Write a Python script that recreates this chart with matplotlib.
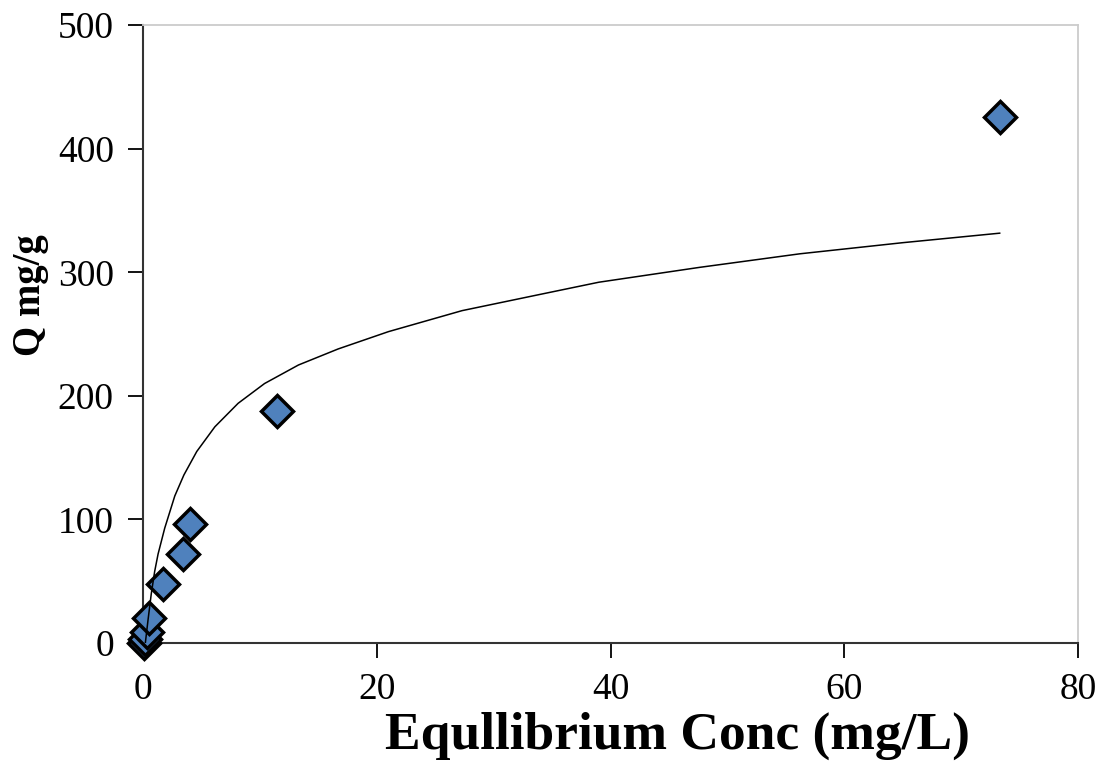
import numpy as np
import matplotlib
matplotlib.use("Agg")
import matplotlib.pyplot as plt

# measured data (equilibrium conc, uptake)
conc = [0.05, 0.15, 0.3, 0.5, 1.75, 3.4, 4.0, 11.5, 73.3]
uptake = [0, 3, 9, 20, 48, 72, 96, 188, 426]

# fitted isotherm line
fit_conc = [0.2, 0.43, 0.71, 1.0, 1.29, 1.86, 2.72, 3.5, 4.6, 6.15, 8.14,
            10.4, 13.3, 16.7, 21.0, 27.3, 33.9, 39.0, 47.6, 56.2, 65.0, 73.3]
fit_q = [0, 18.6, 40, 58, 72, 93, 119, 136, 155, 175, 194,
         210, 225, 238, 252, 269, 282, 292, 304, 315, 324, 331.7]

x_ticks = [0, 20, 40, 60, 80]
y_ticks = [0, 100, 200, 300, 400, 500]

plt.rcParams['font.family'] = ['Liberation Serif', 'DejaVu Serif']

fig = plt.figure(figsize=(11, 7.65), dpi=100)
ax = fig.add_axes([0.13, 0.1595, 0.85, 0.8075])

ax.plot(conc, uptake, linestyle='none', marker='D', markersize=16,
        markerfacecolor='#4F81BD', markeredgecolor='black',
        markeredgewidth=2.5, zorder=3, clip_on=False)
ax.plot(fit_conc, fit_q, color='black', linewidth=1.1, zorder=4,
        solid_joinstyle='round')

ax.set_xlim(0, 80)
ax.set_ylim(0, 500)
ax.set_xticks(x_ticks)
ax.set_yticks(y_ticks)

ax.tick_params(axis='both', direction='out', length=11, width=1.3,
               labelsize=27, pad=10, colors='black')

for side in ['top', 'right']:
    ax.spines[side].set_color('#cccccc')
    ax.spines[side].set_linewidth(1.3)
for side in ['left', 'bottom']:
    ax.spines[side].set_color('#333333')
    ax.spines[side].set_linewidth(1.5)

ax.set_xlabel('Equllibrium Conc (mg/L)', fontsize=38.5, fontweight='bold')
ax.xaxis.set_label_coords(0.572, -0.112)
ax.set_ylabel('Q mg/g', fontsize=28, fontweight='bold')
ax.yaxis.set_label_coords(-0.1, 0.563)

fig.savefig('out.png', dpi=100)
